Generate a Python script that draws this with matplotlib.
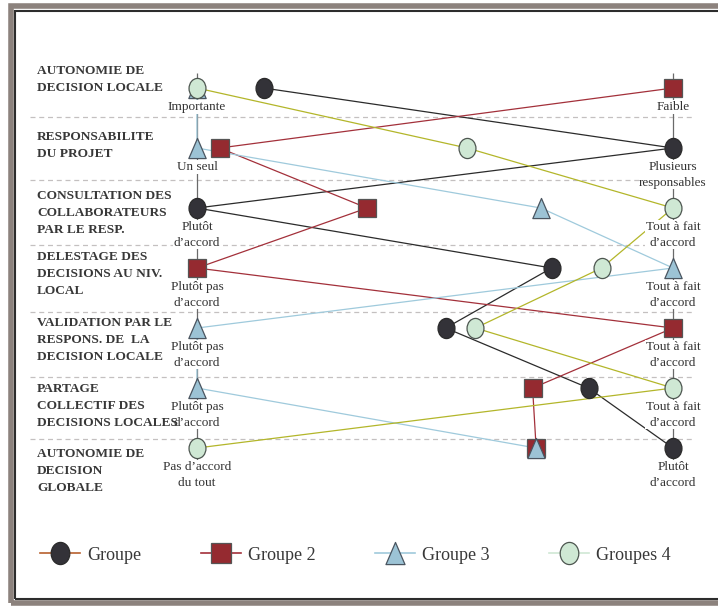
import numpy as np
import matplotlib
matplotlib.use("Agg")
import matplotlib.pyplot as plt
from matplotlib.path import Path
from matplotlib.lines import Line2D
from matplotlib.patches import Rectangle

criteres = [
    "AUTONOMIE DE\nDECISION LOCALE",
    "RESPONSABILITE\nDU PROJET",
    "CONSULTATION DES\nCOLLABORATEURS\nPAR LE RESP.",
    "DELESTAGE DES\nDECISIONS AU NIV.\nLOCAL",
    "VALIDATION PAR LE\nRESPONS. DE  LA\nDECISION LOCALE",
    "PARTAGE\nCOLLECTIF DES\nDECISIONS LOCALES",
    "AUTONOMIE DE\nDECISION\nGLOBALE",
]
pole_gauche = [
    "Importante", "Un seul", "Plutôt\nd’accord", "Plutôt pas\nd’accord",
    "Plutôt pas\nd’accord", "Plutôt pas\nd’accord", "Pas d’accord\ndu tout",
]
pole_droit = [
    "Faible", "Plusieurs\nresponsables", "Tout à fait\nd’accord",
    "Tout à fait\nd’accord", "Tout à fait\nd’accord", "Tout à fait\nd’accord",
    "Plutôt\nd’accord",
]

groupes = ["Groupe", "Groupe 2", "Groupe 3", "Groupes 4"]
groupe1 = [1.56, 5.0, 1.0, 3.98, 3.09, 4.29, 5.0]
groupe2 = [5.0, 1.19, 2.43, 1.0, 5.0, 3.82, 3.85]
groupe3 = [1.0, 1.0, 3.89, 5.0, 1.0, 1.0, 3.85]
groupe4 = [1.0, 3.27, 5.0, 4.40, 3.34, 5.0, 1.0]

# layout helpers (row units)
separateurs = [0.48, 1.53, 2.62, 3.73, 4.82, 5.85]
haut_labels = [-0.38, 0.71, 1.70, 2.71, 3.81, 4.91, 6.0]

# markers
circ = Path.unit_circle()
ellipse = Path(circ.vertices * [0.84, 1.0], circ.codes)
triangle = Path([(-0.43, -0.5), (0.43, -0.5), (0.0, 0.5), (-0.43, -0.5)],
                [Path.MOVETO, Path.LINETO, Path.LINETO, Path.CLOSEPOLY])

styles = [
    dict(line="#2b2b2b", face="#333238", edge="#2a2a2a", marker=ellipse, ms=14.5, leg="#b8602e"),
    dict(line="#a3303a", face="#952a30", edge="#555555", marker="s", ms=13, leg="#a3303a"),
    dict(line="#9fcadc", face="#9cc3d5", edge="#4a5560", marker=triangle, ms=14.5, leg="#9fcadc"),
    dict(line="#b3b62a", face="#cfe8d4", edge="#4d5650", marker=ellipse, ms=14.5, leg="#cfe8d4"),
]

plt.rcParams["font.family"] = ["Liberation Serif", "DejaVu Serif"]
texte = "#383838"

fig = plt.figure(figsize=(7.18, 6.06), dpi=100)
ax = fig.add_axes([0, 0, 1, 1])
ax.set_xlim(-0.655, 5.378)
ax.set_ylim(8.633, -1.467)
ax.axis("off")

rows = np.arange(len(criteres))

# separators
ax.hlines(separateurs, -0.40, 5.18, colors="#c4c0c0", linestyles=(0, (4, 3)), lw=0.9, zorder=1)
# pole axes
ax.vlines([1, 5], -0.25, 6.4, colors="#6a6a6a", lw=0.9, zorder=1)

for vals, st in zip([groupe1, groupe2, groupe3, groupe4], styles):
    ax.plot(vals, rows, color=st["line"], lw=0.9, zorder=2)

for i, (g, d) in enumerate(zip(pole_gauche, pole_droit)):
    for x, t in ((1, g), (5, d)):
        ax.annotate(t, (x, i), xytext=(0, -13), textcoords="offset pixels",
                    ha="center", va="top", fontsize=9.5, color="#333333", linespacing=1.4,
                    bbox=dict(facecolor="white", edgecolor="none", pad=0.5), zorder=3)

for k, (vals, st) in enumerate(zip([groupe1, groupe2, groupe3, groupe4], styles)):
    ax.plot(vals, rows, ls="none", marker=st["marker"], ms=st["ms"],
            mfc=st["face"], mec=st["edge"], mew=0.9, zorder=4 + k)

for t, y in zip(criteres, haut_labels):
    ax.text(-0.345, y, t, ha="left", va="top", fontsize=9.6, fontweight="bold",
            color=texte, linespacing=1.55, zorder=3)

handles = [Line2D([], [], color=st["leg"], lw=1.2, marker=st["marker"], ms=st["ms"] * 1.1,
                  mfc=st["face"], mec=st["edge"], mew=0.9) for st in styles]
ax.legend(handles, groupes, loc="center", bbox_to_anchor=(0.495, 0.084), ncol=4,
          frameon=False, fontsize=13, handlelength=2.2, handletextpad=0.4,
          columnspacing=3.3, labelcolor=texte)

# frame
fig.add_artist(Rectangle((11 / 718, 3 / 606), 1.1, 597 / 606, transform=fig.transFigure,
                         fill=False, edgecolor="#8c827d", lw=4))
fig.add_artist(Rectangle((15 / 718, 7 / 606), 1.1, 588 / 606, transform=fig.transFigure,
                         fill=False, edgecolor="#2d2d2d", lw=1.5))

fig.savefig("out.png", dpi=100)
